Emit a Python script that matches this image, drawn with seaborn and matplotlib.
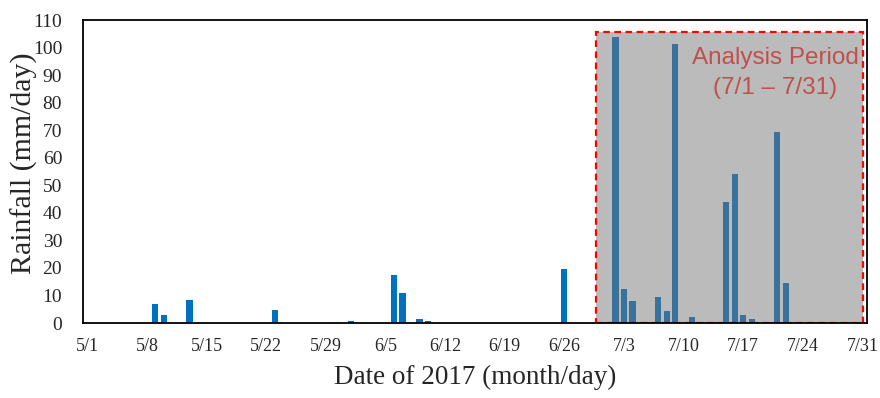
import matplotlib
matplotlib.use("Agg")
import matplotlib.pyplot as plt
from matplotlib.patches import Rectangle
import seaborn as sns
import pandas as pd
import numpy as np

# Daily rainfall, 1 May – 31 July 2017 (days not listed had no rain)
rain_dates = ["2017-05-09", "2017-05-10", "2017-05-13", "2017-05-23", "2017-06-01",
              "2017-06-06", "2017-06-07", "2017-06-09", "2017-06-10", "2017-06-26",
              "2017-07-01", "2017-07-02", "2017-07-03", "2017-07-04", "2017-07-07",
              "2017-07-08", "2017-07-09", "2017-07-11", "2017-07-12", "2017-07-14",
              "2017-07-15", "2017-07-16", "2017-07-17", "2017-07-18", "2017-07-21",
              "2017-07-22"]
rain_mm = [6.8, 2.8, 8.3, 4.7, 0.8,
           17.3, 10.8, 1.5, 0.7, 19.7,
           0.5, 103.7, 12.5, 8.0, 9.5,
           4.5, 101.3, 2.3, 0.3, 0.3,
           44.0, 54.0, 3.0, 1.5, 69.5,
           14.5]

period_start, period_end = "2017-05-01", "2017-07-31"
analysis_label = "Analysis Period\n(7/1 – 7/31)"
y_ticks = list(range(0, 111, 10))

days = pd.date_range(period_start, period_end, freq="D")
daily = pd.Series(0.0, index=days)
daily.loc[pd.to_datetime(rain_dates)] = rain_mm
df = pd.DataFrame({"day": [f"{d.month}/{d.day}" for d in days], "rain": daily.values})

sns.set_theme(style="white")
plt.rcParams["font.family"] = ["Liberation Serif", "DejaVu Serif"]

fig = plt.figure(figsize=(8.8, 3.98), dpi=100)
ax = fig.add_axes([0.0943, 0.1884, 0.8907, 0.7613])

sns.barplot(data=df, x="day", y="rain", color="#0070C0", width=0.72,
            saturation=1, linewidth=0, ax=ax, zorder=2)

# Shaded window over July with a dashed red outline
x0 = df.index[df["day"] == "7/1"][0] - 1.3
x1 = df.index[df["day"] == "7/31"][0]
ax.add_patch(Rectangle((x0, 0), x1 - x0, 105.6, facecolor=(118/255, 118/255, 118/255),
                       alpha=0.49, edgecolor="none", zorder=3))
ax.add_patch(Rectangle((x0, 0), x1 - x0, 105.6, facecolor="none", edgecolor="#FF0000",
                       linestyle=(0, (3, 2)), linewidth=1.6, zorder=4))
ax.text(80.75, 90.8, analysis_label, ha="center", va="center",
        fontsize=17.5, color="#C0504D", family=["Liberation Sans", "DejaVu Sans"],
        linespacing=1.45, zorder=5)

ax.set_xlim(-0.5, len(df) - 0.5)
ax.set_ylim(0, 110)
ax.set_yticks(y_ticks)
ax.set_xticks(range(0, len(df), 7))
ax.set_xticklabels(df["day"].iloc[::7], fontsize=13)
ax.tick_params(axis="y", labelsize=14, length=0, pad=15)
ax.tick_params(axis="x", length=0, pad=11)

ax.set_xlabel("Date of 2017 (month/day)", fontsize=19.5, labelpad=7)
ax.set_ylabel("Rainfall (mm/day)", fontsize=21.5)
ax.yaxis.set_label_coords(-0.057, 0.528)

for s in ax.spines.values():
    s.set_color("black")
    s.set_linewidth(1.3)
    s.set_zorder(6)

fig.savefig("out.png", dpi=100)
